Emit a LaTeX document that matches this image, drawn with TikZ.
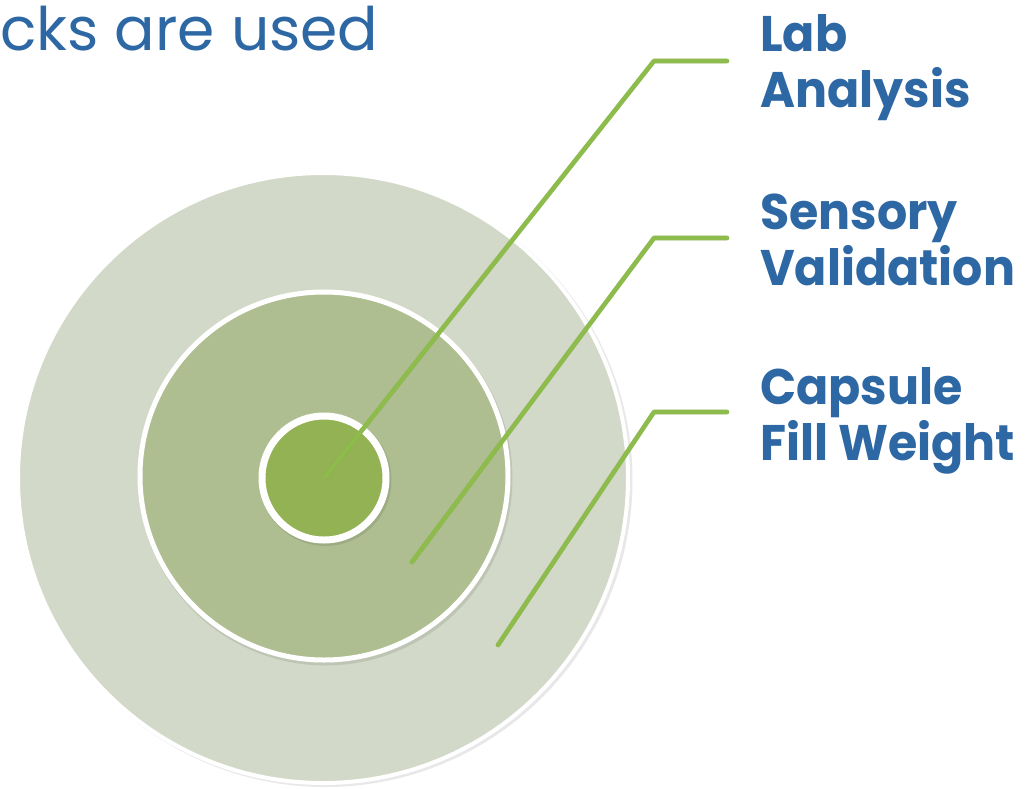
\documentclass[tikz,border=0pt]{standalone}
\usepackage{fontspec}
\setmainfont{Poppins}
\definecolor{ringouter}{HTML}{D3D9C8}
\definecolor{ringmiddle}{HTML}{AEBE91}
\definecolor{ringinner}{HTML}{93B253}
\definecolor{leadgreen}{HTML}{8DBC4C}
\definecolor{labelblue}{HTML}{2E68A4}
\tikzset{
  ring/.style={circle, draw=white, inner sep=0pt, outer sep=0pt},
  ringshadow/.style={circle, fill=black, opacity=0.09, inner sep=0pt},
  leader/.style={draw=leadgreen, line width=4.6pt, line cap=round, line join=round},
  leadershadow/.style={draw=black, opacity=0.1, line width=4.6pt, line cap=round, line join=round},
  tag/.style={anchor=base west, inner sep=0pt, text=labelblue, align=left,
              xscale=0.95, transform shape,
              font=\fontsize{50}{56}\selectfont\bfseries},
  heading/.style={anchor=base west, inner sep=0pt, text=labelblue,
              font=\fontsize{60}{65}\selectfont}
}
\begin{document}
\begin{tikzpicture}[x=1pt,y=-1pt]
  \useasboundingbox (0,0) rectangle (1026,788);
  \fill[white] (0,0) rectangle (1026,788);

  % title fragment
  \node[heading] (title) at (0,50) {cks are used};

  % concentric target rings with soft shadows
  \node[ringshadow, minimum size=614pt] at (325.5,480) {};
  \node[ring, fill=ringouter, line width=4pt, minimum size=610pt] (outer) at (323,478) {};
  \node[ringshadow, minimum size=374pt] at (325.5,478.5) {};
  \node[ring, fill=ringmiddle, line width=5pt, minimum size=368pt] (middle) at (324,476) {};
  \node[ringshadow, minimum size=132pt] at (325.5,480) {};
  \node[ring, fill=ringinner, line width=7pt, minimum size=124pt] (inner) at (324,478) {};

  % leader line anchor points
  \coordinate (labtip) at (325,477);
  \coordinate (labbend) at (654,61);
  \coordinate (labend) at (727,61);
  \coordinate (sentip) at (412,562);
  \coordinate (senbend) at (654,238);
  \coordinate (senend) at (727,238);
  \coordinate (captip) at (498,645);
  \coordinate (capbend) at (654,412);
  \coordinate (capend) at (727,412);

  % leader lines
  \begin{scope}[shift={(1.2,1.5)}]
    \draw[leadershadow] (labtip) -- (labbend) -- (labend);
    \draw[leadershadow] (sentip) -- (senbend) -- (senend);
    \draw[leadershadow] (captip) -- (capbend) -- (capend);
  \end{scope}
  \draw[leader] (labtip) -- (labbend) -- (labend);
  \draw[leader] (sentip) -- (senbend) -- (senend);
  \draw[leader] (captip) -- (capbend) -- (capend);

  % labels (anchored on the baseline of their second line)
  \node[tag] (lab) at (760,107) {Lab\\Analysis};
  \node[tag] (sensory) at (760,285) {Sensory\\Validation};
  \node[tag] (capsule) at (760,460) {Capsule\\Fill Weight};
\end{tikzpicture}
\end{document}
